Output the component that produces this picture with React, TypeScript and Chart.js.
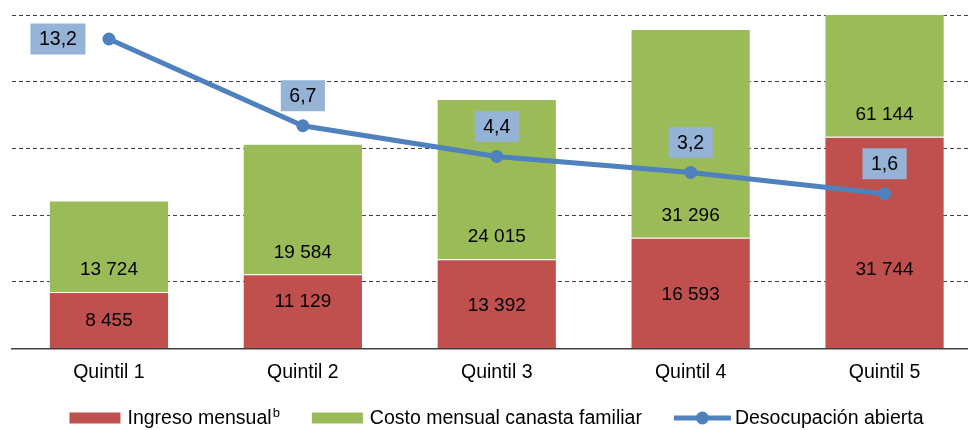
import React, { useEffect, useRef } from "react";
import { Chart, registerables } from "chart.js";

Chart.register(...registerables);

const categories = ["Quintil 1", "Quintil 2", "Quintil 3", "Quintil 4", "Quintil 5"];
const ingreso = [8455, 11129, 13392, 16593, 31744];
const costo = [13724, 19584, 24015, 31296, 61144];
const desocupacion = [13.2, 6.7, 4.4, 3.2, 1.6];

const FONT = "'Liberation Sans', Arial, sans-serif";
const RED = "#C0504D";
const GREEN = "#9BBB59";
const BLUE = "#4F81BD";
const LABEL_BLUE = "#95B3D7";

const fmtInt = (v: number) => String(v).replace(/\B(?=(\d{3})+(?!\d))/g, " ");
const fmtDec = (v: number) => v.toFixed(1).replace(".", ",");

// vertical nudges of red-bar labels (style only)
const redLabelNudge = [0, -10, 1, 1, 26];

const labelsPlugin = {
  id: "valueLabels",
  afterDatasetsDraw(chart: any) {
    const ctx = chart.ctx;
    ctx.save();
    ctx.font = `19px ${FONT}`;
    ctx.textAlign = "center";
    ctx.textBaseline = "middle";
    ctx.fillStyle = "#000";
    const mRed = chart.getDatasetMeta(0);
    mRed.data.forEach((el: any, i: number) => {
      const y = (el.y + el.base) / 2 + redLabelNudge[i];
      ctx.fillText(fmtInt(ingreso[i]), el.x, y + 1);
    });
    const mGreen = chart.getDatasetMeta(1);
    mGreen.data.forEach((el: any, i: number) => {
      ctx.fillText(fmtInt(costo[i]), el.x, el.base - 23 + 1);
    });
    const mLine = chart.getDatasetMeta(2);
    ctx.font = `19.5px ${FONT}`;
    mLine.data.forEach((el: any, i: number) => {
      const txt = fmtDec(desocupacion[i]);
      const w = ctx.measureText(txt).width + 17;
      const h = 31;
      let cx = el.x;
      let cy = el.y - 30;
      if (i === 0) {
        cx = el.x - 51;
        cy = el.y;
      }
      ctx.fillStyle = LABEL_BLUE;
      ctx.fillRect(cx - w / 2, cy - h / 2, w, h);
      ctx.fillStyle = "#000";
      ctx.fillText(txt, cx, cy + 1);
    });
    ctx.restore();
  },
};

const legendPlugin = {
  id: "customLegend",
  afterDraw(chart: any) {
    const ctx = chart.ctx;
    ctx.save();
    const fontMain = `19.5px ${FONT}`;
    const fontSup = `13px ${FONT}`;
    ctx.font = fontMain;
    const t1 = "Ingreso mensual";
    const t2 = "Costo mensual canasta familiar";
    const t3 = "Desocupación abierta";
    const w1 = ctx.measureText(t1).width;
    const w2 = ctx.measureText(t2).width;
    const w3 = ctx.measureText(t3).width;
    ctx.font = fontSup;
    const wb = ctx.measureText("b").width + 1;
    const symGap = 7;
    const itemGap = 32;
    const total = 51 + symGap + w1 + wb + itemGap + 51 + symGap + w2 + itemGap + 57 + symGap + w3;
    let x = 498 - total / 2;
    const yc = 418;
    ctx.textBaseline = "middle";
    ctx.textAlign = "left";
    // item 1
    ctx.fillStyle = RED;
    ctx.fillRect(x, yc - 5.5, 51, 11);
    x += 51 + symGap;
    ctx.fillStyle = "#000";
    ctx.font = fontMain;
    ctx.fillText(t1, x, yc + 1);
    x += w1 + 1;
    ctx.font = fontSup;
    ctx.fillText("b", x, yc - 5);
    x += wb + itemGap - 1;
    // item 2
    ctx.fillStyle = GREEN;
    ctx.fillRect(x, yc - 5.5, 51, 11);
    x += 51 + symGap;
    ctx.fillStyle = "#000";
    ctx.font = fontMain;
    ctx.fillText(t2, x, yc + 1);
    x += w2 + itemGap;
    // item 3
    ctx.strokeStyle = BLUE;
    ctx.lineWidth = 5;
    ctx.beginPath();
    ctx.moveTo(x, yc);
    ctx.lineTo(x + 57, yc);
    ctx.stroke();
    ctx.fillStyle = BLUE;
    ctx.beginPath();
    ctx.arc(x + 28.5, yc, 6.5, 0, Math.PI * 2);
    ctx.fill();
    x += 57 + symGap - 3;
    ctx.fillStyle = "#000";
    ctx.fillText(t3, x, yc + 1);
    ctx.restore();
  },
};

export default function App() {
  const ref = useRef<HTMLCanvasElement>(null);
  useEffect(() => {
    if (!ref.current) return;
    const chart = new Chart(ref.current, {
      type: "bar",
      data: {
        labels: categories,
        datasets: [
          {
            type: "bar",
            label: "Ingreso mensual",
            data: ingreso,
            backgroundColor: RED,
            borderColor: "rgba(255,255,255,0.2)",
            borderWidth: 1,
            order: 1,
            yAxisID: "y",
            barPercentage: 0.62,
            categoryPercentage: 1,
          },
          {
            type: "bar",
            label: "Costo mensual canasta familiar",
            data: costo,
            backgroundColor: GREEN,
            borderColor: "rgba(255,255,255,0.2)",
            borderWidth: 1,
            order: 2,
            yAxisID: "y",
            barPercentage: 0.62,
            categoryPercentage: 1,
          },
          {
            type: "line",
            label: "Desocupación abierta",
            data: desocupacion,
            borderColor: BLUE,
            backgroundColor: BLUE,
            borderWidth: 5,
            pointRadius: 6.5,
            pointBorderWidth: 0,
            pointBackgroundColor: BLUE,
            tension: 0,
            order: 0,
            yAxisID: "y1",
          } as any,
        ],
      },
      options: {
        responsive: false,
        animation: false,
        devicePixelRatio: 1,
        layout: { padding: { left: 12, top: 15, right: 0, bottom: 0 } },
        plugins: {
          legend: { display: false },
          tooltip: { enabled: false },
        },
        scales: {
          x: {
            stacked: true,
            grid: { display: false, drawTicks: false },
            border: { display: true, color: "#404040", width: 1.5 },
            ticks: { color: "#000", font: { family: FONT, size: 19.5 }, padding: 12 },
            afterFit: (s: any) => {
              s.height = 81.5;
            },
          },
          y: {
            stacked: true,
            min: 0,
            max: 50000,
            ticks: { display: false, stepSize: 10000 },
            grid: { color: "#404040", drawTicks: false, lineWidth: 1 },
            border: { display: false, dash: [4, 3] },
            afterFit: (s: any) => {
              s.width = 0;
            },
          },
          y1: {
            display: false,
            min: -10,
            max: 15,
            position: "right",
          },
        },
      } as any,
      plugins: [labelsPlugin, legendPlugin],
    });
    return () => chart.destroy();
  }, []);
  return (
    <div
      style={{
        position: "fixed",
        left: 0,
        top: 0,
        width: 968,
        height: 430,
        overflow: "hidden",
        background: "#fff",
      }}
    >
      <canvas ref={ref} width={988} height={430} style={{ display: "block" }} />
    </div>
  );
}
